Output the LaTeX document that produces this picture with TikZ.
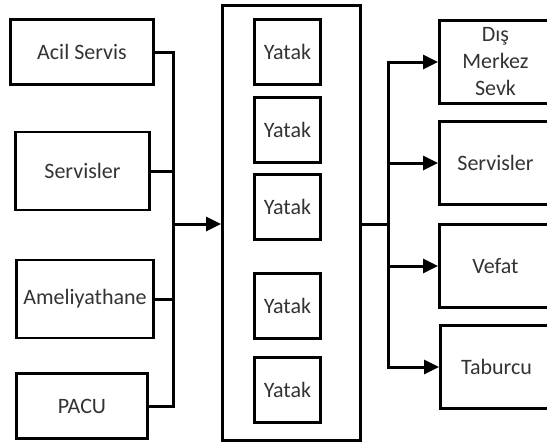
\documentclass[tikz,border=0pt]{standalone}
\usepackage{fontspec}
\setmainfont{Carlito}
\usetikzlibrary{arrows.meta}
\begin{document}
\begin{tikzpicture}[line width=2.8pt,
    box/.style={draw,inner sep=0pt,align=center,text=black!80,
      font=\fontsize{22}{27}\selectfont},
    bed/.style={box,minimum width=66pt,minimum height=65pt},
    flow/.style={-{Triangle[length=15pt,width=14pt]}}]
  \useasboundingbox (0pt,0pt) rectangle (547pt,-445pt);
  % sources
  \node[box,minimum width=143pt,minimum height=65pt] (acil) at (82pt,-52pt) {Acil Servis};
  \node[box,minimum width=134pt,minimum height=78pt] (serv) at (82.5pt,-171pt) {Servisler};
  \node[box,minimum width=137pt,minimum height=78pt] (amel) at (85pt,-299pt) {Ameliyathane};
  \node[box,minimum width=131pt,minimum height=65pt] (pacu) at (82pt,-406pt) {PACU};
  % ward
  \node[box,minimum width=138pt,minimum height=435pt] (ward) at (291.5pt,-223pt) {};
  \foreach \i/\y in {1/52,2/130,3/207,4/306,5/390}
    \node[bed] (bed\i) at (287.5pt,-\y pt) {Yatak};
  % outcomes
  \node[box,minimum width=112pt,minimum height=83pt] (sevk) at (495.5pt,-62pt) {Dış\\Merkez\\Sevk};
  \node[box,minimum width=112pt,minimum height=83pt] (oserv) at (495.5pt,-163pt) {Servisler};
  \node[box,minimum width=112pt,minimum height=83pt] (vefat) at (495.5pt,-266pt) {Vefat};
  \node[box,minimum width=112pt,minimum height=83pt] (tabur) at (496.5pt,-367pt) {Taburcu};
  \coordinate (inbus) at (173pt,-224pt);
  \coordinate (outbus) at (388pt,-224pt);
  \foreach \n in {acil,serv,amel,pacu}
    \draw[line width=3pt] (\n.east) -| (inbus);
  \draw[flow,line width=3pt] (inbus) -- (inbus -| ward.west);
  \draw[line width=3pt] (ward.east |- outbus) -- (outbus);
  \foreach \n in {sevk,oserv,vefat,tabur}
    \draw[flow,line width=3pt] (outbus) |- (\n.west);
\end{tikzpicture}
\end{document}
